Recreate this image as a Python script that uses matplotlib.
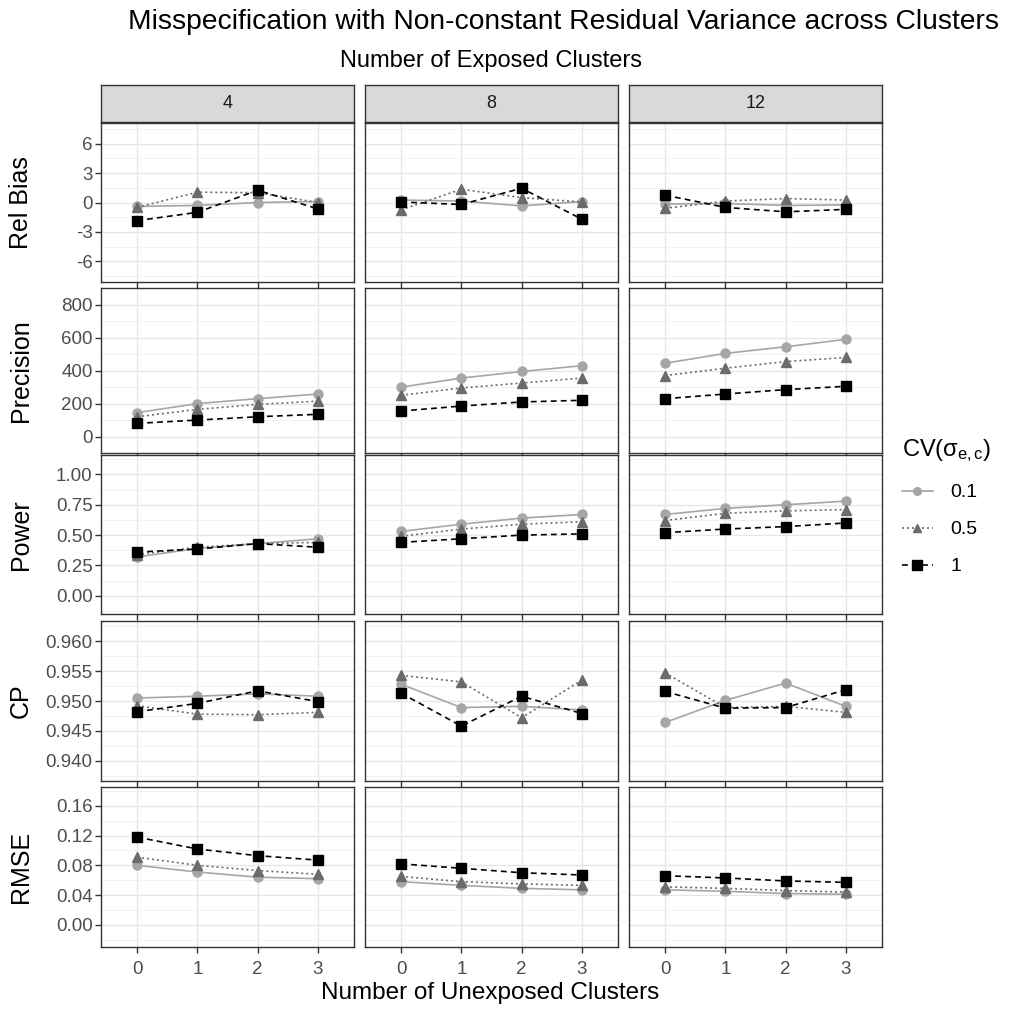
import numpy as np
import matplotlib
matplotlib.use("Agg")
import matplotlib.pyplot as plt
from matplotlib.lines import Line2D

plt.rcParams['font.family'] = ['Liberation Sans', 'DejaVu Sans']
plt.rcParams['mathtext.fontset'] = 'custom'
plt.rcParams['mathtext.rm'] = 'Liberation Sans'
plt.rcParams['mathtext.it'] = 'Liberation Sans'

# data
exposed = ['4', '8', '12']
unexposed = [0, 1, 2, 3]
cv_levels = ['0.1', '0.5', '1']
metrics = ['Rel Bias', 'Precision', 'Power', 'CP', 'RMSE']

rel_bias = {
    '0.1': [[-0.4, -0.3, 0.0, 0.1], [0.25, 0.15, -0.35, 0.1], [-0.15, -0.1, -0.3, -0.25]],
    '0.5': [[-0.5, 1.05, 1.0, 0.0], [-0.75, 1.35, 0.5, 0.05], [-0.6, 0.15, 0.4, 0.25]],
    '1':   [[-1.85, -1.0, 1.25, -0.65], [0.05, -0.2, 1.45, -1.7], [0.75, -0.5, -0.95, -0.7]],
}
precision = {
    '0.1': [[145, 200, 230, 258], [300, 355, 395, 430], [445, 505, 545, 590]],
    '0.5': [[120, 165, 195, 215], [250, 295, 325, 355], [370, 415, 455, 480]],
    '1':   [[80, 100, 120, 135], [155, 185, 210, 220], [230, 258, 285, 305]],
}
power = {
    '0.1': [[0.32, 0.39, 0.43, 0.47], [0.53, 0.59, 0.64, 0.67], [0.67, 0.72, 0.75, 0.78]],
    '0.5': [[0.34, 0.40, 0.43, 0.44], [0.49, 0.55, 0.59, 0.61], [0.62, 0.68, 0.70, 0.71]],
    '1':   [[0.36, 0.385, 0.43, 0.40], [0.44, 0.47, 0.50, 0.51], [0.52, 0.55, 0.57, 0.60]],
}
cp = {
    '0.1': [[0.9505, 0.9508, 0.9512, 0.9508], [0.9528, 0.9489, 0.9491, 0.9485], [0.9464, 0.9501, 0.9530, 0.9491]],
    '0.5': [[0.9492, 0.9478, 0.9477, 0.9481], [0.9543, 0.9532, 0.9472, 0.9535], [0.9547, 0.9489, 0.9491, 0.9481]],
    '1':   [[0.9482, 0.9496, 0.9517, 0.9499], [0.9513, 0.9458, 0.9508, 0.9479], [0.9516, 0.9488, 0.9489, 0.9519]],
}
rmse = {
    '0.1': [[0.080, 0.071, 0.064, 0.062], [0.058, 0.053, 0.049, 0.047], [0.047, 0.045, 0.042, 0.041]],
    '0.5': [[0.091, 0.080, 0.073, 0.068], [0.065, 0.058, 0.055, 0.053], [0.051, 0.049, 0.046, 0.044]],
    '1':   [[0.118, 0.102, 0.093, 0.087], [0.082, 0.076, 0.070, 0.067], [0.066, 0.063, 0.059, 0.057]],
}
all_data = [rel_bias, precision, power, cp, rmse]

yticks = [[-6, -3, 0, 3, 6], [0, 200, 400, 600, 800], [0, 0.25, 0.5, 0.75, 1.0],
          [0.940, 0.945, 0.950, 0.955, 0.960], [0, 0.04, 0.08, 0.12, 0.16]]
ytick_labels = [['-6', '-3', '0', '3', '6'], ['0', '200', '400', '600', '800'],
                ['0.00', '0.25', '0.50', '0.75', '1.00'],
                ['0.940', '0.945', '0.950', '0.955', '0.960'],
                ['0.00', '0.04', '0.08', '0.12', '0.16']]
ylims = [(-8.1, 8.1), (-92, 902), (-0.15, 1.16), (0.9366, 0.9634), (-0.03, 0.1855)]

styles = {
    '0.1': dict(color='#A6A6A6', ls='-', marker='o', ms=6.5),
    '0.5': dict(color='#6B6B6B', ls=(0, (1.2, 1.8)), marker='^', ms=7),
    '1':   dict(color='black', ls=(0, (3.5, 2.5)), marker='s', ms=7.5),
}

W, H = 1016, 1011
fig = plt.figure(figsize=(W / 100, H / 100), dpi=100)

def rect(l, t, w, h):
    return [l / W, 1 - (t + h) / H, w / W, h / H]

col_left = [101, 365, 629]
col_w = 253
row_top = [123, 288, 455, 621, 787]
row_h = [159, 165, 159, 160, 160]
tick_grey = '#4D4D4D'
border = '#333333'

for c in range(3):
    # strip
    sax = fig.add_axes(rect(col_left[c], 85, col_w, 37))
    sax.set_facecolor('#D9D9D9')
    sax.set_xticks([]); sax.set_yticks([])
    for sp in sax.spines.values():
        sp.set_color(border); sp.set_linewidth(1.0)
    sax.text(0.5, 0.5, exposed[c], ha='center', va='center', fontsize=13, color='#1A1A1A',
             transform=sax.transAxes)

    for r in range(5):
        ax = fig.add_axes(rect(col_left[c], row_top[r], col_w, row_h[r]))
        ax.set_xlim(-0.6, 3.6)
        ax.set_ylim(*ylims[r])
        ax.set_xticks(unexposed)
        yt = yticks[r]
        ax.set_yticks(yt)
        step = yt[1] - yt[0]
        minors = np.arange(yt[0] - step / 2, yt[-1] + step, step)
        ax.set_yticks(minors, minor=True)
        ax.grid(True, which='major', color='#E6E6E6', lw=1.0)
        ax.grid(True, which='minor', axis='y', color='#F0F0F0', lw=0.7)
        ax.set_axisbelow(True)
        for sp in ax.spines.values():
            sp.set_color(border); sp.set_linewidth(1.0)
        ax.tick_params(axis='x', which='major', length=4, color=border, width=1.0,
                       labelsize=13.5, labelcolor=tick_grey, pad=6)
        ax.tick_params(axis='y', which='major', length=4, color=border, width=1.0,
                       labelsize=13.5, labelcolor=tick_grey, pad=2)
        ax.tick_params(which='minor', length=0)
        if r < 4:
            ax.set_xticklabels([])
        else:
            ax.set_xticklabels([str(u) for u in unexposed])
        if c == 0:
            ax.set_yticklabels(ytick_labels[r])
            fig.text(21 / W, 1 - (row_top[r] + row_h[r] / 2) / H, metrics[r], rotation=90,
                     ha='center', va='center', fontsize=18, color='black')
        else:
            ax.tick_params(axis='y', which='major', length=0, labelleft=False)
        d = all_data[r]
        for lvl in cv_levels:
            st = styles[lvl]
            ax.plot(unexposed, d[lvl][c], color=st['color'], ls=st['ls'], lw=1.2,
                    marker=st['marker'], ms=st['ms'], mec=st['color'], mfc=st['color'])

fig.text(128 / W, 1 - 22 / H, 'Misspecification with Non-constant Residual Variance across Clusters',
         ha='left', va='center', fontsize=20.3, color='black')
fig.text(491 / W, 1 - 61 / H, 'Number of Exposed Clusters', ha='center', va='center',
         fontsize=17, color='black')
fig.text(490 / W, 1 - 993 / H, 'Number of Unexposed Clusters', ha='center', va='center',
         fontsize=17.5, color='black')

handles = []
for lvl in cv_levels:
    st = styles[lvl]
    handles.append(Line2D([0], [0], color=st['color'], ls=st['ls'], lw=1.2, marker=st['marker'],
                          ms=st['ms'] - 1, mec=st['color'], mfc=st['color']))
leg = fig.legend(handles, cv_levels, loc='upper left', bbox_to_anchor=(884 / W, 1 - 420 / H),
                 frameon=False, title=r'CV($\sigma_{e,c}$)', fontsize=14, title_fontsize=17,
                 handlelength=1.6, labelspacing=1.0, alignment='left', handletextpad=0.9)

fig.savefig('out.png', dpi=100)
